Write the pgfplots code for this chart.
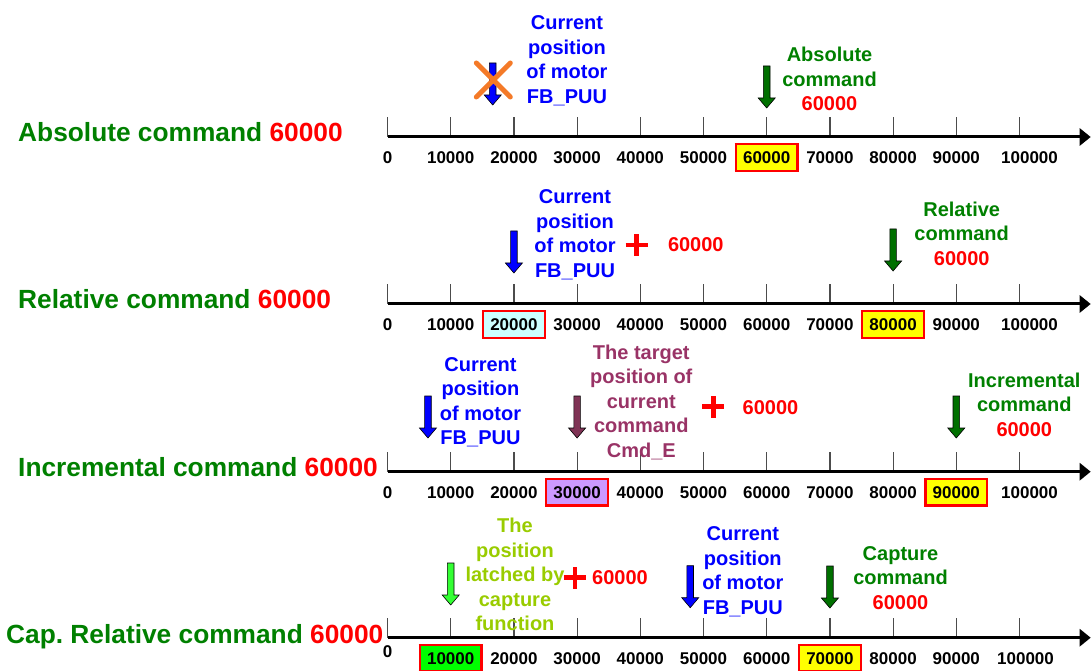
\documentclass[border=0pt]{standalone}
\usepackage{fontspec}
\setmainfont{Liberation Sans}
\usepackage{pgfplots}
\pgfplotsset{compat=1.18}
\usetikzlibrary{arrows.meta}
\frenchspacing
\definecolor{tgreen}{HTML}{008000}
\definecolor{tblue}{HTML}{0000FF}
\definecolor{tred}{HTML}{FF0000}
\definecolor{tpurple}{HTML}{993366}
\definecolor{tlime}{HTML}{99CC00}
\definecolor{torange}{HTML}{F47A28}
\definecolor{agreen}{HTML}{007000}
\definecolor{apurple}{HTML}{7F3355}
\definecolor{alime}{HTML}{33FF33}
\definecolor{hyellow}{HTML}{FFFF00}
\definecolor{hcyan}{HTML}{CCFFFF}
\definecolor{hlav}{HTML}{CC99FF}
\definecolor{hgreen}{HTML}{00FF00}
\newcommand\hl[2]{{\setlength\fboxrule{2.5pt}\setlength\fboxsep{6pt}\fcolorbox{tred}{#1}{\rule{0pt}{11.5pt}#2}}}
\pgfdeclareplotmark{darrow}{%
  \pgfpathmoveto{\pgfqpoint{0pt}{0pt}}%
  \pgfpathlineto{\pgfqpoint{-8.5pt}{10pt}}%
  \pgfpathlineto{\pgfqpoint{-3.3pt}{10pt}}%
  \pgfpathlineto{\pgfqpoint{-3.3pt}{42pt}}%
  \pgfpathlineto{\pgfqpoint{3.3pt}{42pt}}%
  \pgfpathlineto{\pgfqpoint{3.3pt}{10pt}}%
  \pgfpathlineto{\pgfqpoint{8.5pt}{10pt}}%
  \pgfpathclose\pgfusepathqfillstroke}
\pgfdeclareplotmark{bigx}{%
  \pgfpathmoveto{\pgfqpoint{-17pt}{-17pt}}\pgfpathlineto{\pgfqpoint{17pt}{17pt}}%
  \pgfpathmoveto{\pgfqpoint{-17pt}{17pt}}\pgfpathlineto{\pgfqpoint{17pt}{-17pt}}%
  \pgfusepathqstroke}
\pgfdeclareplotmark{bigplus}{%
  \pgfpathmoveto{\pgfqpoint{-11pt}{0pt}}\pgfpathlineto{\pgfqpoint{11pt}{0pt}}%
  \pgfpathmoveto{\pgfqpoint{0pt}{-11pt}}\pgfpathlineto{\pgfqpoint{0pt}{11pt}}%
  \pgfusepathqstroke}
\pgfplotsset{
  numline/.style={
    scale only axis, width=703.2pt, height=140pt,
    xmin=0, xmax=111266, ymin=0, ymax=140,
    anchor=south west, axis x line=bottom, axis y line=none, clip=false,
    scaled x ticks=false, scaled y ticks=false,
    x axis line style={line width=3pt, -{Triangle[length=11pt,width=17pt]}},
    xtick={0,10000,20000,30000,40000,50000,60000,70000,80000,90000,100000},
    xtick align=inside, major tick length=20pt,
    tick style={line width=1.2pt, black!70},
    xticklabel style={font=\fontsize{17}{19}\selectfont\bfseries, anchor=center, yshift=-20.5pt, inner sep=0pt},
  },
  arr/.style={only marks, mark=darrow, mark options={fill=#1, draw=black, line width=0.6pt, solid}},
  plusm/.style={only marks, mark=bigplus, mark options={draw=tred, line width=4.5pt}},
}
\tikzset{
  txt/.style={font=\fontsize{20}{24.5}\selectfont\bfseries, align=center, inner sep=0pt, anchor=center},
  ttl/.style={font=\fontsize{26.3}{30}\selectfont\bfseries, text=tgreen, anchor=base west, inner sep=0pt},
}
\begin{document}
\begin{tikzpicture}
% Panel 1
\begin{axis}[numline, at={(387.5pt,533pt)},
  xticklabels={0,10000,20000,30000,40000,50000,\hl{hyellow}{60000},70000,80000,90000,\hspace*{20pt}100000}]
\addplot[arr=tblue] coordinates {(16650,32)};
\addplot[only marks, mark=bigx, mark options={draw=torange, line width=5pt, line cap=round}] coordinates {(16740,57)};
\addplot[arr=agreen] coordinates {(60000,29)};
\node[txt, text=tblue] at (axis cs:28400,76.5) {Current\\position\\of motor\\FB\_PUU};
\node[txt, text=tgreen] at (axis cs:69940,58) {Absolute\\command\\\textcolor{tred}{60000}};
\node[ttl] at (axis cs:-58465,-4.6) {Absolute command \textcolor{tred}{60000}};
\end{axis}
% Panel 2
\begin{axis}[numline, at={(387.5pt,366pt)},
  xticklabels={0,10000,\hl{hcyan}{20000},30000,40000,50000,60000,70000,\hl{hyellow}{80000},90000,\hspace*{20pt}100000}]
\addplot[arr=tblue] coordinates {(20000,31)};
\addplot[arr=agreen] coordinates {(80000,33)};
\addplot[plusm] coordinates {(39430,59)};
\node[txt, text=tblue] at (axis cs:29668,69.4) {Current\\position\\of motor\\FB\_PUU};
\node[txt, text=tred] at (axis cs:48782,59) {60000};
\node[txt, text=tgreen] at (axis cs:90854,70.2) {Relative\\command\\\textcolor{tred}{60000}};
\node[ttl] at (axis cs:-58465,-5) {Relative command \textcolor{tred}{60000}};
\end{axis}
% Panel 3
\begin{axis}[numline, at={(387.5pt,198.3pt)},
  xticklabels={0,10000,20000,\hl{hlav}{30000},40000,50000,60000,70000,80000,\hl{hyellow}{90000},\hspace*{20pt}100000}]
\addplot[arr=tblue] coordinates {(6400,33.7)};
\addplot[arr=apurple] coordinates {(30000,33.7)};
\addplot[arr=agreen] coordinates {(90000,33.7)};
\addplot[plusm] coordinates {(51550,65)};
\node[txt, text=tblue] at (axis cs:14715,69.6) {Current\\position\\of motor\\FB\_PUU};
\node[txt, text=tpurple] at (axis cs:40158,69.6) {The target\\position of\\current\\command\\Cmd\_E};
\node[txt, text=tred] at (axis cs:60601,63.7) {60000};
\node[txt, text=tgreen] at (axis cs:100760,67) {Incremental\\command\\\textcolor{tred}{60000}};
\node[ttl] at (axis cs:-58465,-4.3) {Incremental command \textcolor{tred}{60000}};
\end{axis}
% Panel 4
\begin{axis}[numline, at={(387.5pt,32.3pt)},
  xticklabels={\raisebox{7pt}[12pt][0pt]{0},\hl{hgreen}{10000},20000,30000,40000,50000,60000,\hl{hyellow}{70000},80000,90000,\hspace*{12pt}100000}]
\addplot[arr=alime] coordinates {(10000,32.7)};
\addplot[arr=tblue] coordinates {(47900,30)};
\addplot[arr=agreen] coordinates {(70000,29.7)};
\addplot[plusm] coordinates {(29668,60)};
\node[txt, text=tlime] at (axis cs:20174,63.2) {The\\position\\latched by\\capture\\function};
\node[txt, text=tred] at (axis cs:36788,60) {60000};
\node[txt, text=tblue] at (axis cs:56218,66) {Current\\position\\of motor\\FB\_PUU};
\node[txt, text=tgreen] at (axis cs:81171,59.7) {Capture\\command\\\textcolor{tred}{60000}};
\node[ttl] at (axis cs:-60364,-5.3) {Cap.\ Relative command \textcolor{tred}{60000}};
\end{axis}
\pgfresetboundingbox
\path[use as bounding box] (0,0) rectangle (1091pt,670pt);
\end{tikzpicture}
\end{document}
